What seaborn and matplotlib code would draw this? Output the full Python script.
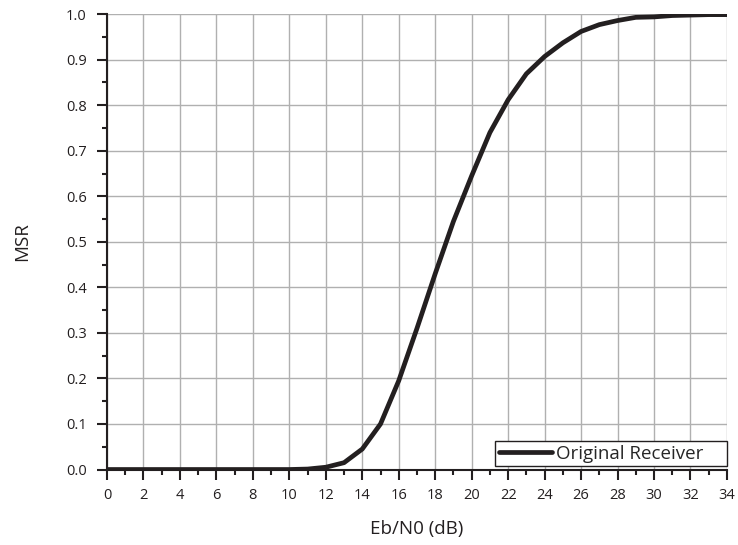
import matplotlib
matplotlib.use("Agg")
import matplotlib.pyplot as plt
from matplotlib.ticker import MultipleLocator
import numpy as np
import pandas as pd
import seaborn as sns

# Signal-to-noise sweep (dB) and measured success ratio
ebn0_db = list(range(0, 35))
msr = [0.0, 0.0, 0.0, 0.0, 0.0, 0.0, 0.0, 0.0, 0.0, 0.0,
       0.0, 0.001, 0.005, 0.015, 0.045, 0.10, 0.195, 0.31, 0.43, 0.545,
       0.645, 0.74, 0.812, 0.869, 0.907, 0.937, 0.962, 0.977, 0.986, 0.993,
       0.994, 0.997, 0.998, 0.999, 0.999]
series_name = "Original Receiver"
x_ticks = list(range(0, 35, 2))
y_ticks = [round(0.1 * i, 1) for i in range(11)]

df = pd.DataFrame({"Eb/N0 (dB)": ebn0_db, "MSR": msr, "series": series_name})

sns.set_style("ticks")
plt.rcParams["font.family"] = ["Open Sans", "DejaVu Sans"]

ink = "#231f20"

fig = plt.figure(figsize=(7.38, 5.45), dpi=100)
ax = fig.add_axes([0.145, 0.1385, 0.84, 0.8355])

sns.lineplot(data=df, x="Eb/N0 (dB)", y="MSR", hue="series",
             palette=[ink], linewidth=3.4, ax=ax,
             solid_capstyle="round", zorder=3)

ax.set_xlim(0, 34)
ax.set_ylim(0, 1.0)
ax.set_xticks(x_ticks)
ax.set_yticks(y_ticks)
ax.set_yticklabels([f"{v:.1f}" for v in y_ticks])
ax.xaxis.set_minor_locator(MultipleLocator(1))
ax.yaxis.set_minor_locator(MultipleLocator(0.05))

ax.grid(True, which="major", color="#b0b0b0", linewidth=1.0, zorder=0)
ax.set_axisbelow(True)

for side in ("top", "right"):
    ax.spines[side].set_visible(False)
for side in ("left", "bottom"):
    ax.spines[side].set_color(ink)
    ax.spines[side].set_linewidth(1.5)

ax.tick_params(which="major", direction="out", length=7, width=1.5,
               color=ink, labelsize=10.5, labelcolor=ink)
ax.tick_params(axis="y", which="major", pad=7.5)
ax.tick_params(axis="x", which="major", pad=6)
ax.tick_params(which="minor", direction="out", length=3.6, width=1.5,
               color=ink)

ax.set_xlabel("Eb/N0 (dB)", fontsize=13.5, color=ink, labelpad=12.5)
ax.set_ylabel("MSR", fontsize=13.5, color=ink, labelpad=25)

# the legend box keeps some room after the label text
handles, labels = ax.get_legend_handles_labels()
leg = ax.legend(handles, [lab + "    " for lab in labels],
                loc="lower right", frameon=True, fancybox=False,
                fontsize=13.5, handlelength=2.8, handletextpad=0.25,
                borderpad=0.2, borderaxespad=0.0,
                bbox_to_anchor=(1.0, 0.007))
leg.get_frame().set_edgecolor(ink)
leg.get_frame().set_linewidth(1.0)
leg.get_frame().set_alpha(1.0)
for line in leg.get_lines():
    line.set_linewidth(3.4)
    line.set_solid_capstyle("round")

fig.savefig("out.png", dpi=100)
